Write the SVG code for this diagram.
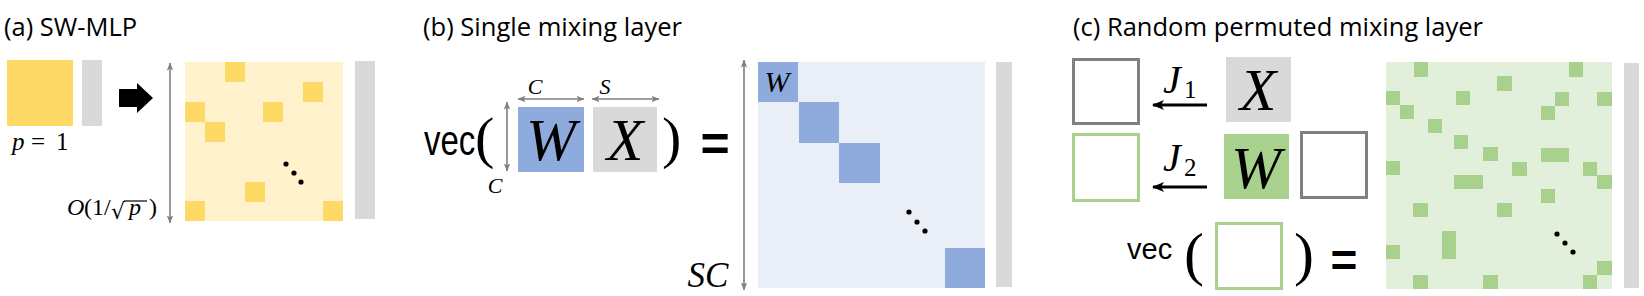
<svg xmlns="http://www.w3.org/2000/svg" width="1644" height="296" viewBox="0 0 1644 296">
<defs>
<style>
.title{font-family:"Open Sans","Liberation Sans",sans-serif;font-size:25px;fill:#000}
.math{font-family:"Liberation Serif","DejaVu Serif",serif;font-style:italic;fill:#000}
.rm{font-family:"Liberation Serif","DejaVu Serif",serif;font-style:normal;fill:#000}
.sans{font-family:"Liberation Sans",Arial,sans-serif;fill:#000}
.dim{stroke:#808080;stroke-width:1.6;fill:none}
.gbar{fill:#d9d9d9}
.ysq{fill:#ffd966}
.bsq{fill:#8faadc}
.gsq{fill:#a9d18e}
.dot{fill:#000}
.outg{fill:#fff;stroke:#808080;stroke-width:3}
.outgr{fill:#fff;stroke:#a9d18e;stroke-width:3}
</style>
<marker id="dh" viewBox="0 0 8 8" refX="7.5" refY="4" markerWidth="8" markerHeight="8" markerUnits="userSpaceOnUse" orient="auto-start-reverse">
<path d="M0,0.8 L8,4 L0,7.2 L1.8,4 z" fill="#808080"/>
</marker>
<marker id="jh" viewBox="0 0 12 12" refX="11" refY="6" markerWidth="12" markerHeight="12" markerUnits="userSpaceOnUse" orient="auto">
<path d="M0,1 L12,6 L0,11 L3,6 z" fill="#000"/>
</marker>
</defs>
<rect width="1644" height="296" fill="#fff"/>

<!-- (a) SW-MLP -->
<g id="panel-a">
<text class="title" x="4" y="36" textLength="133" lengthAdjust="spacingAndGlyphs">(a) SW-MLP</text>
<g id="a-dense">
<rect class="ysq" x="7" y="60" width="66" height="66"/>
<rect class="gbar" x="82" y="60" width="20" height="66"/>
<text class="math" x="12" y="150" font-size="25">p</text>
<text class="rm" x="31" y="150" font-size="25">=</text>
<text class="rm" x="56" y="150" font-size="25">1</text>
</g>
<g id="a-arrow">
<polygon points="119,89 137,89 137,83 153,98 137,113 137,107 119,107" fill="#000"/>
</g>
<g id="a-sparse">
<rect x="185" y="62" width="158" height="159" fill="#fff2cc"/>
<rect class="ysq" x="225" y="62" width="20" height="20"/>
<rect class="ysq" x="303" y="82" width="20" height="20"/>
<rect class="ysq" x="185" y="102" width="20" height="20"/>
<rect class="ysq" x="263" y="102" width="20" height="20"/>
<rect class="ysq" x="205" y="122" width="20" height="20"/>
<rect class="ysq" x="245" y="182" width="20" height="20"/>
<rect class="ysq" x="185" y="201" width="20" height="20"/>
<rect class="ysq" x="323" y="201" width="20" height="20"/>
<circle class="dot" cx="286" cy="164" r="2.6"/>
<circle class="dot" cx="294" cy="173" r="2.6"/>
<circle class="dot" cx="301" cy="182" r="2.6"/>
<rect class="gbar" x="355" y="61" width="20" height="158"/>
<text font-size="24"><tspan class="math" x="67" y="215">O</tspan><tspan class="rm" x="84" y="215">(1/</tspan><tspan x="111" y="219" font-size="22" font-family="DejaVu Sans, sans-serif">√</tspan><tspan class="math" x="129" y="215">p</tspan><tspan class="rm" x="149" y="215">)</tspan></text>
<line x1="124" y1="201" x2="147" y2="201" stroke="#000" stroke-width="1.2"/>
</g>
</g>

<!-- (b) Single mixing layer -->
<g id="panel-b">
<text class="title" x="423" y="36" textLength="259" lengthAdjust="spacingAndGlyphs">(b) Single mixing layer</text>
<g id="b-vec">
<text class="sans" font-size="33" transform="translate(424,155) scale(1,1.3)">vec</text>
<text class="rm" x="475" y="157" font-size="58">(</text>
<text class="rm" x="662" y="157" font-size="58">)</text>
<text class="sans" x="715" y="161" font-size="50" font-weight="bold" text-anchor="middle">=</text>
</g>
<g id="b-W">
<rect class="bsq" x="518" y="107" width="66" height="65"/>
<text class="math" x="551" y="160" font-size="60" text-anchor="middle">W</text>
<text class="math" x="535" y="94" font-size="22" text-anchor="middle">C</text>
<text class="math" x="495" y="193" font-size="22" text-anchor="middle">C</text>
</g>
<g id="b-X">
<rect class="gbar" x="593" y="107" width="64" height="65"/>
<text class="math" x="625" y="160" font-size="60" text-anchor="middle">X</text>
<text class="math" x="605" y="94" font-size="22" text-anchor="middle">S</text>
</g>
<g id="b-matrix">
<rect x="758" y="62" width="227" height="226" fill="#e9eef7"/>
<rect class="bsq" x="758" y="62" width="40" height="40"/>
<text class="math" x="777" y="92" font-size="30" text-anchor="middle">W</text>
<rect class="bsq" x="799" y="102" width="40" height="41"/>
<rect class="bsq" x="839" y="143" width="41" height="40"/>
<rect class="bsq" x="945" y="248" width="40" height="40"/>
<circle class="dot" cx="909" cy="212" r="2.6"/>
<circle class="dot" cx="917" cy="222" r="2.6"/>
<circle class="dot" cx="925" cy="231" r="2.6"/>
<text class="math" x="708" y="287" font-size="35" text-anchor="middle">SC</text>
</g>
<rect id="b-bar" class="gbar" x="996" y="62" width="16" height="225"/>
</g>

<!-- (c) Random permuted mixing layer -->
<g id="panel-c">
<text class="title" x="1073" y="36" textLength="410" lengthAdjust="spacingAndGlyphs">(c) Random permuted mixing layer</text>
<rect id="c-out1" class="outg" x="1073.5" y="59.5" width="65" height="64"/>
<rect id="c-out2" class="outgr" x="1073.5" y="134.5" width="65" height="66"/>
<g id="c-J1"><text class="math" x="1163" y="93" font-size="40">J</text><text class="rm" x="1184" y="98" font-size="25">1</text></g>
<g id="c-J2"><text class="math" x="1163" y="171" font-size="40">J</text><text class="rm" x="1184" y="176" font-size="25">2</text></g>
<g id="c-X">
<rect class="gbar" x="1226" y="57" width="65" height="65"/>
<text class="math" x="1258" y="110" font-size="60" text-anchor="middle">X</text>
</g>
<g id="c-W">
<rect class="gsq" x="1224" y="134" width="65" height="65"/>
<text class="math" x="1256" y="188" font-size="60" text-anchor="middle">W</text>
</g>
<rect id="c-out3" class="outg" x="1301.5" y="132.5" width="65" height="65"/>
<g id="c-vec">
<text class="sans" x="1127" y="259" font-size="29">vec</text>
<text class="rm" x="1184" y="274" font-size="60">(</text>
<rect class="outgr" x="1216.5" y="223.5" width="65" height="65"/>
<text class="rm" x="1294" y="274" font-size="60">)</text>
<text class="sans" x="1344" y="276" font-size="46" font-weight="bold" text-anchor="middle">=</text>
</g>
<g id="c-matrix">
<rect x="1386" y="62" width="226" height="227" fill="#e2efda"/>
<rect class="gsq" x="1414" y="62" width="14" height="15"/>
<rect class="gsq" x="1569" y="62" width="14" height="15"/>
<rect class="gsq" x="1497" y="76" width="15" height="15"/>
<rect class="gsq" x="1386" y="91" width="14" height="14"/>
<rect class="gsq" x="1456" y="91" width="14" height="14"/>
<rect class="gsq" x="1555" y="92" width="14" height="14"/>
<rect class="gsq" x="1597" y="92" width="15" height="14"/>
<rect class="gsq" x="1400" y="105" width="14" height="14"/>
<rect class="gsq" x="1541" y="106" width="14" height="14"/>
<rect class="gsq" x="1428" y="119" width="14" height="14"/>
<rect class="gsq" x="1454" y="135" width="14" height="14"/>
<rect class="gsq" x="1483" y="147" width="15" height="14"/>
<rect class="gsq" x="1541" y="148" width="28" height="14"/>
<rect class="gsq" x="1386" y="161" width="14" height="14"/>
<rect class="gsq" x="1512" y="162" width="15" height="14"/>
<rect class="gsq" x="1583" y="162" width="14" height="14"/>
<rect class="gsq" x="1597" y="175" width="15" height="14"/>
<rect class="gsq" x="1454" y="175" width="29" height="14"/>
<rect class="gsq" x="1541" y="189" width="14" height="14"/>
<rect class="gsq" x="1413" y="203" width="15" height="14"/>
<rect class="gsq" x="1497" y="203" width="15" height="14"/>
<rect class="gsq" x="1442" y="231" width="14" height="28"/>
<rect class="gsq" x="1386" y="245" width="14" height="14"/>
<rect class="gsq" x="1597" y="261" width="15" height="14"/>
<rect class="gsq" x="1413" y="275" width="15" height="14"/>
<rect class="gsq" x="1483" y="275" width="15" height="14"/>
<rect class="gsq" x="1583" y="275" width="14" height="14"/>
<circle class="dot" cx="1557" cy="234" r="2.6"/>
<circle class="dot" cx="1565" cy="243" r="2.6"/>
<circle class="dot" cx="1573" cy="252" r="2.6"/>
</g>
<rect id="c-bar" class="gbar" x="1624" y="63" width="15" height="225"/>
</g>

<!-- connectors -->
<g id="connectors">
<line class="dim" x1="170" y1="63" x2="170" y2="223" marker-start="url(#dh)" marker-end="url(#dh)"/>
<line class="dim" x1="518" y1="99" x2="584" y2="99" marker-start="url(#dh)" marker-end="url(#dh)"/>
<line class="dim" x1="592" y1="99" x2="659" y2="99" marker-start="url(#dh)" marker-end="url(#dh)"/>
<line class="dim" x1="507" y1="102" x2="507" y2="171" marker-start="url(#dh)" marker-end="url(#dh)"/>
<line class="dim" x1="744" y1="60" x2="744" y2="290" marker-start="url(#dh)" marker-end="url(#dh)"/>
<line x1="1207" y1="105" x2="1153" y2="105" stroke="#000" stroke-width="3" marker-end="url(#jh)"/>
<line x1="1207" y1="187" x2="1153" y2="187" stroke="#000" stroke-width="3" marker-end="url(#jh)"/>
</g>
</svg>
